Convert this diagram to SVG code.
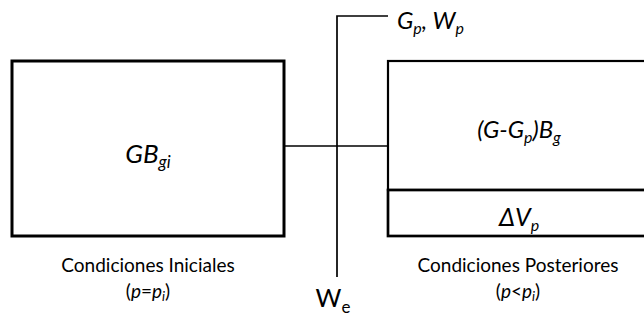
<svg xmlns="http://www.w3.org/2000/svg" width="644" height="320" viewBox="0 0 644 320">
<style>
text{font-family:Lato,"Open Sans","Liberation Sans",sans-serif;fill:#000}
.it{font-style:italic}
.lbl{font-size:19px}
.box{fill:#fff;stroke:#000}
.ln{fill:none;stroke:#000;stroke-width:1.7}
</style>
<rect width="644" height="320" fill="#fff"/>
<g id="connectors">
<path class="ln" d="M284 146H388"/>
<path class="ln" d="M337 277V16H388"/>
</g>
<g id="initial">
<rect class="box" x="12" y="61" width="272" height="175" stroke-width="3"/>
<text class="it" x="148" y="163" font-size="26" text-anchor="middle">GB<tspan font-size="17" dy="5">gi</tspan></text>
</g>
<g id="posterior">
<rect class="box" x="388" y="61" width="270" height="129" stroke-width="2.2"/>
<text class="it" x="519" y="138" font-size="24" text-anchor="middle">(G-G<tspan font-size="16" dy="5">p</tspan><tspan dy="-5">)B</tspan><tspan font-size="16" dy="5">g</tspan></text>
</g>
<g id="deltaV">
<rect class="box" x="388" y="190" width="270" height="46" stroke-width="2.7"/>
<text class="it" x="519" y="226" font-size="25" text-anchor="middle">ΔV<tspan font-size="16" dy="5">p</tspan></text>
</g>
<g id="gp">
<text class="it" x="397" y="29" font-size="24">G<tspan font-size="16" dy="5">p</tspan><tspan dy="-5">, W</tspan><tspan font-size="16" dy="5">p</tspan></text>
</g>
<g id="we">
<text x="333" y="307" font-size="25" text-anchor="middle">W<tspan font-size="17" dy="6">e</tspan></text>
</g>
<g id="labels">
<text class="lbl" x="148" y="272" text-anchor="middle">Condiciones Iniciales</text>
<text class="lbl" x="148" y="298" text-anchor="middle">(<tspan class="it">p</tspan>=<tspan class="it">p</tspan><tspan class="it" font-size="13" dy="3">i</tspan><tspan dy="-3">)</tspan></text>
<text class="lbl" x="518" y="272" text-anchor="middle">Condiciones Posteriores</text>
<text class="lbl" x="518" y="298" text-anchor="middle">(<tspan class="it">p</tspan>&lt;<tspan class="it">p</tspan><tspan class="it" font-size="13" dy="3">i</tspan><tspan dy="-3">)</tspan></text>
</g>
</svg>
